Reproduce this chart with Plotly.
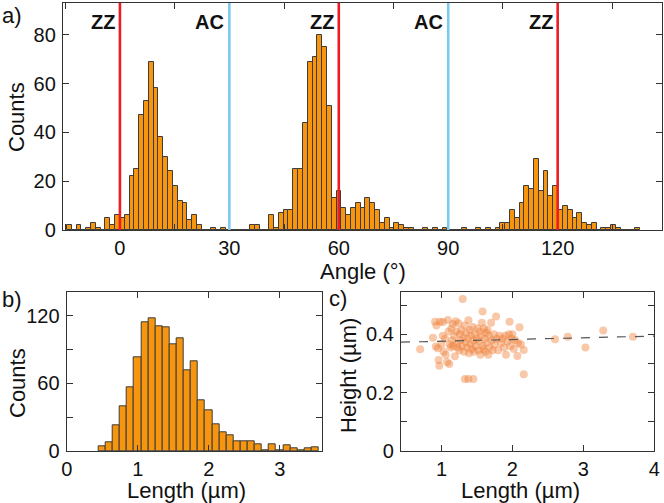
import numpy as np
import plotly.graph_objects as go

# ---------------- data ----------------
# Panel a: angle histogram (bin width 1.32 deg, first bin starts at -14.52 deg)
angle_bin_start = -14.52
angle_bin_width = 1.32
angle_counts = [
    2, 0, 2, 0, 1, 3, 1, 0, 5, 2, 6,            # k=-11..-1
    5, 6, 22, 25, 47, 53, 69, 58, 38, 30,       # k=0..9
    24, 18, 12, 11, 4, 6, 2, 0, 0, 1,           # k=10..19
    0, 1, 0, 0, 0, 0, 0, 2, 2, 0,               # k=20..29
    0, 6, 1, 7, 8, 8, 25, 25, 44, 69,           # k=30..39
    71, 80, 75, 51, 13, 16, 9, 6, 9, 11,        # k=40..49
    9, 13, 11, 8, 3, 5, 1, 3, 2, 1,             # k=50..59
    1, 0, 0, 1, 0, 1, 0, 1, 0, 0,               # k=60..69
    0, 1, 0, 0, 1, 0, 1, 0, 1, 3,               # k=70..79
    3, 8, 5, 11, 18, 17, 29, 16, 24, 14,        # k=80..89
    18, 8, 10, 8, 5, 7, 3, 2, 3, 0,             # k=90..99
    1, 1, 2, 1, 0, 0, 0, 1,                     # k=100..107
]
zz_angles = [0, 60, 120]
ac_angles = [30, 90]

# Panel b: length histogram (bin width 0.1 um, first bin starts at 0.45 um)
length_bin_start = 0.45
length_bin_width = 0.1
length_counts = [4, 8, 23, 40, 57, 83, 114, 118, 111, 110, 95, 100, 72, 80, 45,
                 36, 24, 17, 14, 9, 9, 9, 6, 1, 6, 1, 5, 2, 1, 2, 3]

# Panel c: height vs length scatter
scatter_length = [
    0.70, 0.88, 0.91, 0.93, 0.92, 0.95, 0.96, 0.97, 0.98, 1.00, 1.02, 1.02, 1.03, 1.05,
    1.06, 1.08, 1.09, 1.10, 1.11, 1.12, 1.13, 1.14, 1.15, 1.16, 1.17, 1.18, 1.19, 1.20,
    1.21, 1.22, 1.23, 1.24, 1.25, 1.26, 1.27, 1.28, 1.29, 1.30, 1.31, 1.32, 1.33, 1.33,
    1.34, 1.35, 1.36, 1.37, 1.38, 1.38, 1.39, 1.40, 1.41, 1.42, 1.43, 1.44, 1.45, 1.45,
    1.46, 1.47, 1.48, 1.50, 1.51, 1.52, 1.53, 1.54, 1.55, 1.56, 1.57, 1.58, 1.58, 1.59,
    1.60, 1.61, 1.62, 1.63, 1.64, 1.65, 1.66, 1.67, 1.68, 1.70, 1.71, 1.72, 1.74, 1.75,
    1.77, 1.78, 1.80, 1.82, 1.84, 1.86, 1.88, 1.90, 1.91, 1.93, 1.95, 1.96, 1.97, 1.99,
    2.00, 2.02, 2.04, 2.07, 2.08, 2.10, 2.12, 2.16, 2.16, 2.60, 2.78, 3.03, 3.28, 3.70,
]
scatter_height = [
    0.349, 0.388, 0.443, 0.430, 0.358, 0.352, 0.312, 0.292, 0.443, 0.365, 0.442, 0.395, 0.340, 0.385,
    0.330, 0.305, 0.449, 0.410, 0.298, 0.365, 0.355, 0.420, 0.380, 0.435, 0.360, 0.395, 0.325, 0.445,
    0.410, 0.370, 0.355, 0.438, 0.345, 0.400, 0.380, 0.415, 0.360, 0.521, 0.390, 0.340, 0.247, 0.430,
    0.372, 0.405, 0.355, 0.385, 0.247, 0.448, 0.335, 0.415, 0.365, 0.395, 0.350, 0.425, 0.247, 0.378,
    0.340, 0.400, 0.360, 0.385, 0.420, 0.345, 0.375, 0.410, 0.330, 0.395, 0.440, 0.478, 0.360, 0.350,
    0.420, 0.385, 0.340, 0.405, 0.370, 0.415, 0.330, 0.395, 0.355, 0.440, 0.380, 0.345, 0.400, 0.365,
    0.461, 0.385, 0.345, 0.395, 0.370, 0.385, 0.355, 0.395, 0.330, 0.375, 0.400, 0.443, 0.360, 0.385,
    0.400, 0.350, 0.380, 0.326, 0.370, 0.424, 0.365, 0.346, 0.263, 0.383, 0.392, 0.355, 0.413, 0.392,
]
fit_length = [0.43, 4.0]
fit_height = [0.373, 0.394]

# ---------------- styles ----------------
FONT = "Liberation Sans, Arial, sans-serif"
BAR_COLOR = "#F7950F"
BAR_LINE = "#3c3c3c"
RED = "#ED1C24"
BLUE = "#7CC8F0"
AX_COLOR = "#333333"
TEXT_COLOR = "#111111"
TICK_SIZE = 20
TITLE_SIZE = 22

W, H = 664, 503


def px_dom_x(a, b):
    return [a / W, b / W]


def px_dom_y(top, bottom):
    return [1 - bottom / H, 1 - top / H]


angle_centers = angle_bin_start + angle_bin_width * (np.arange(len(angle_counts)) + 0.5)
length_centers = length_bin_start + length_bin_width * (np.arange(len(length_counts)) + 0.5)

fig = go.Figure()

fig.add_trace(go.Bar(
    x=angle_centers, y=angle_counts, width=angle_bin_width,
    marker=dict(color=BAR_COLOR, line=dict(color=BAR_LINE, width=1)),
    xaxis="x", yaxis="y", showlegend=False,
))
fig.add_trace(go.Bar(
    x=length_centers, y=length_counts, width=length_bin_width,
    marker=dict(color=BAR_COLOR, line=dict(color=BAR_LINE, width=1)),
    xaxis="x2", yaxis="y2", showlegend=False,
))
fig.add_trace(go.Scatter(
    x=scatter_length, y=scatter_height, mode="markers",
    marker=dict(color="rgba(238,125,49,0.42)", size=8, line=dict(width=0)),
    xaxis="x3", yaxis="y3", showlegend=False,
))
fig.add_trace(go.Scatter(
    x=fit_length, y=fit_height, mode="lines",
    line=dict(color="#555555", width=1.2, dash="dash"),
    xaxis="x3", yaxis="y3", showlegend=False,
))


def axis(dom, rng, dtick, tick0=0, minor=None, anchor=None, labelstand=2):
    d = dict(
        domain=dom, range=rng, dtick=dtick, tick0=tick0, showline=True, linecolor=AX_COLOR,
        linewidth=1.3, mirror="ticks", ticks="inside", ticklen=6, tickwidth=1.3,
        tickcolor=AX_COLOR, showgrid=False, zeroline=False, automargin=False,
        tickfont=dict(family=FONT, size=TICK_SIZE, color=TEXT_COLOR),
        ticklabelstandoff=labelstand,
        anchor=anchor,
    )
    if minor is not None:
        d["minor"] = dict(dtick=minor, ticks="inside", ticklen=6, tickwidth=1.3,
                          tickcolor=AX_COLOR, showgrid=False)
    return d


fig.update_layout(
    width=W, height=H, margin=dict(l=0, r=0, t=0, b=0, autoexpand=False),
    paper_bgcolor="white", plot_bgcolor="white", bargap=0,
    xaxis=axis(px_dom_x(63, 662), [-15.6, 148.6], 30, minor=15, anchor="y", labelstand=0),
    yaxis=axis(px_dom_y(3, 230), [0, 93], 20, anchor="x", labelstand=2),
    xaxis2=axis(px_dom_x(66.7, 322.3), [0, 3.6], 1, anchor="y2", labelstand=0),
    yaxis2=axis(px_dom_y(292.3, 451), [0, 141], 60, minor=30, anchor="x2", labelstand=2),
    xaxis3=axis(px_dom_x(401, 654.3), [0.43, 4.0], 1, anchor="y3", labelstand=0),
    yaxis3=axis(px_dom_y(292.3, 451), [0, 0.544], 0.2, minor=0.1, anchor="x3", labelstand=2),
)
fig.layout.yaxis3.tickvals = [0, 0.2, 0.4]
fig.layout.yaxis3.ticktext = ["0", "0.2", "0.4"]

for a in zz_angles:
    fig.add_shape(type="line", xref="x", yref="y domain", x0=a, x1=a, y0=0, y1=1,
                  line=dict(color=RED, width=2.6))
    fig.add_annotation(x=a, xref="x", y=1 - 22 / H, yref="paper", yanchor="middle", xanchor="right",
                       xshift=-3, text="<b>ZZ</b>", showarrow=False,
                       font=dict(family=FONT, size=20, color=TEXT_COLOR))
for a in ac_angles:
    fig.add_shape(type="line", xref="x", yref="y domain", x0=a, x1=a, y0=0, y1=1,
                  line=dict(color=BLUE, width=2.6))
    fig.add_annotation(x=a, xref="x", y=1 - 22 / H, yref="paper", yanchor="middle", xanchor="right",
                       xshift=-3, text="<b>AC</b>", showarrow=False,
                       font=dict(family=FONT, size=20, color=TEXT_COLOR))

# panel labels
for lbl, xp, yp in [("a)", 0, 15), ("b)", 0, 299), ("c)", 327, 298)]:
    fig.add_annotation(x=xp / W, y=1 - yp / H, xref="paper", yref="paper", xanchor="left",
                       yanchor="middle", text=lbl, showarrow=False,
                       font=dict(family=FONT, size=TITLE_SIZE, color=TEXT_COLOR))

# axis titles (placed as paper annotations for exact positioning)
titles = [
    ("Angle (°)", 363, 271, 0),
    ("Counts", 17, 117, -90),
    ("Counts", 17, 383, -90),
    ("Length (µm)", 186, 490, 0),
    ("Height (µm)", 348, 376, -90),
    ("Length (µm)", 520, 490, 0),
]
for txt, xp, yp, ang in titles:
    fig.add_annotation(x=xp / W, y=1 - yp / H, xref="paper", yref="paper", xanchor="center",
                       yanchor="middle", text=txt, textangle=ang, showarrow=False,
                       font=dict(family=FONT, size=TITLE_SIZE, color=TEXT_COLOR))

fig.write_html("out.html")
